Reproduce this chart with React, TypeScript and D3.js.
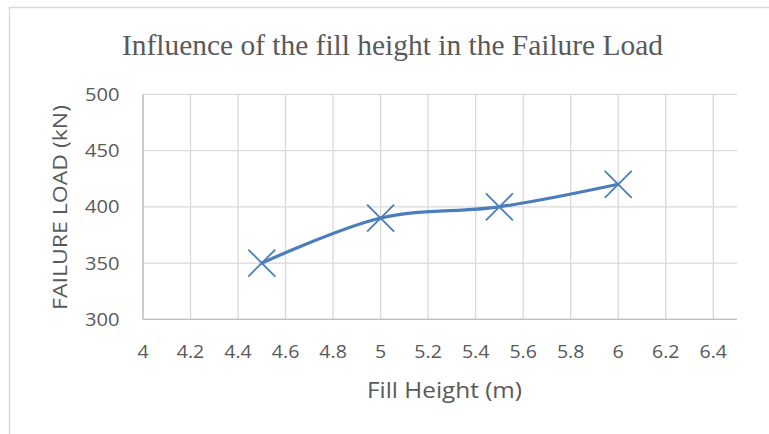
import React from "react";
import * as d3 from "d3";

const fillHeights = [4.5, 5, 5.5, 6];
const failureLoads = [350, 390, 400, 420];
const xTicks = [4, 4.2, 4.4, 4.6, 4.8, 5, 5.2, 5.4, 5.6, 5.8, 6, 6.2, 6.4];
const yTicks = [300, 350, 400, 450, 500];
const chartTitle = "Influence of the fill height in the Failure Load";
const xTitle = "Fill Height (m)";
const yTitle = "FAILURE LOAD (kN)";

const W = 769;
const H = 434;
const left = 143;
const right = 737;
const top = 94.3;
const bottom = 319.3;
const textColor = "#595959";
const lineColor = "#4A7EBB";
const sansFont = "'Open Sans', 'Noto Sans', sans-serif";
const sx = 1.12;

export default function App() {
  const x = d3.scaleLinear().domain([4, 6.5]).range([left, right]);
  const y = d3.scaleLinear().domain([300, 500]).range([bottom, top]);
  const pts: [number, number][] = fillHeights.map((h, i) => [x(h), y(failureLoads[i])]);
  const line = d3.line().curve(d3.curveCardinal.tension(0))(pts) || "";
  const m = 13.5;
  return (
    <svg
      width={W}
      height={H}
      style={{ position: "absolute", left: 0, top: 0, background: "#fff" }}
    >
      <rect x={9.5} y={7.5} width={W} height={H} fill="#fff" stroke="#d9d9d9" strokeWidth={1.5} />
      <text
        x={122}
        y={55}
        textLength={541}
        lengthAdjust="spacingAndGlyphs"
        fontFamily="'Liberation Serif', 'Times New Roman', serif"
        fontSize={29}
        fill={textColor}
      >
        {chartTitle}
      </text>
      {yTicks.map((t) => (
        <line key={"gy" + t} x1={left} x2={right} y1={y(t)} y2={y(t)} stroke="#d9d9d9" strokeWidth={1.3} />
      ))}
      {xTicks.map((t) => (
        <line key={"gx" + t} x1={x(t)} x2={x(t)} y1={top} y2={bottom} stroke="#d9d9d9" strokeWidth={1.3} />
      ))}
      <line x1={left} x2={right} y1={bottom} y2={bottom} stroke="#bfbfbf" strokeWidth={1.3} />
      <line x1={left} x2={left} y1={top} y2={bottom} stroke="#bfbfbf" strokeWidth={1.3} />
      {yTicks.map((t) => (
        <text
          key={"ty" + t}
          transform={`translate(119.5,${y(t)}) scale(${sx},1)`}
          dy="0.36em"
          textAnchor="end"
          fontFamily={sansFont}
          fontSize={18}
          fill={textColor}
        >
          {t}
        </text>
      ))}
      {xTicks.map((t) => (
        <text
          key={"tx" + t}
          transform={`translate(${x(t)},358.3) scale(${sx},1)`}
          textAnchor="middle"
          fontFamily={sansFont}
          fontSize={17.5}
          fill={textColor}
        >
          {d3.format("~g")(t)}
        </text>
      ))}
      <text
        x={367}
        y={398}
        textLength={155}
        lengthAdjust="spacingAndGlyphs"
        fontFamily={sansFont}
        fontSize={21}
        fill={textColor}
      >
        {xTitle}
      </text>
      <text
        transform={`translate(67,310) rotate(-90)`}
        textLength={205}
        lengthAdjust="spacingAndGlyphs"
        fontFamily={sansFont}
        fontSize={20.5}
        fill={textColor}
      >
        {yTitle}
      </text>
      <path d={line} fill="none" stroke={lineColor} strokeWidth={3.2} strokeLinecap="round" />
      {pts.map(([px, py], i) => (
        <g key={"m" + i} stroke={lineColor} strokeWidth={1.8}>
          <line x1={px - m} y1={py - m} x2={px + m} y2={py + m} />
          <line x1={px - m} y1={py + m} x2={px + m} y2={py - m} />
        </g>
      ))}
    </svg>
  );
}
